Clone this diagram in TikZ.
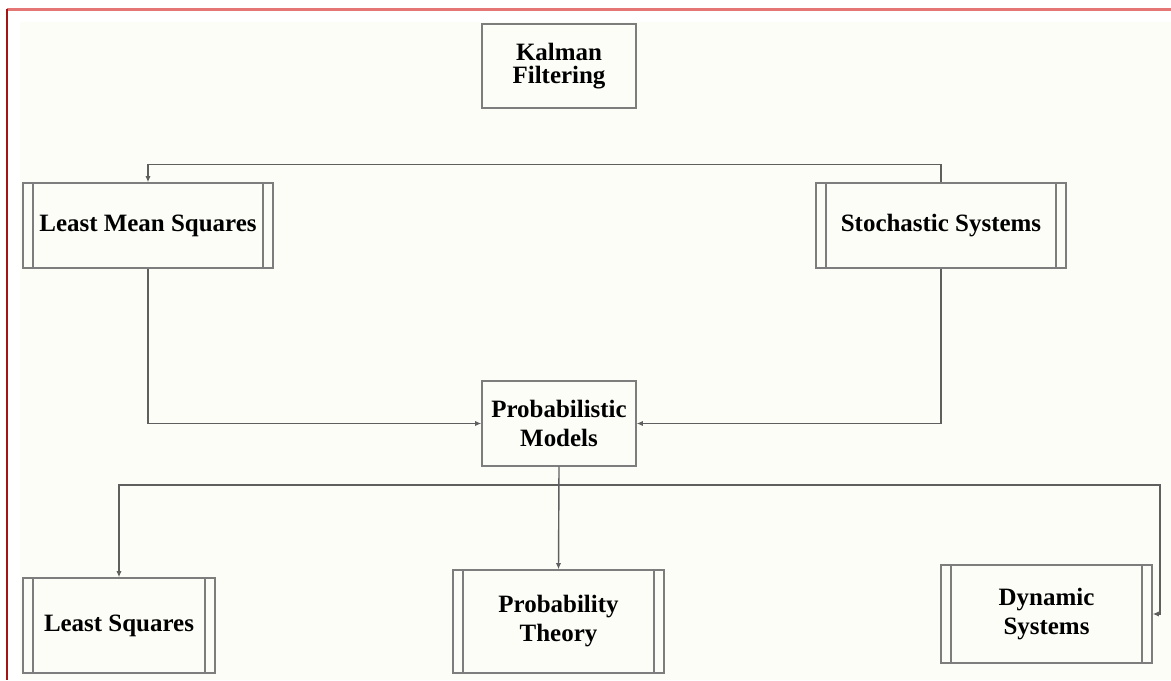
\documentclass[tikz,border=0pt]{standalone}
\usepackage{fontspec}
\setmainfont{Liberation Serif}
\usepackage{tikz}
\usetikzlibrary{arrows.meta, positioning, calc}
\definecolor{paper}{RGB}{253, 253, 248}
\definecolor{edge}{RGB}{125, 125, 125}
\definecolor{wire}{RGB}{95, 95, 95}
\definecolor{frametop}{RGB}{228, 118, 118}
\definecolor{frameleft}{RGB}{165, 20, 20}

\begin{document}
\begin{tikzpicture}[
    topic/.style={draw=edge, line width=0.8pt, fill=paper, align=center,
        font=\bfseries\fontsize{14.2}{16.5}\selectfont},
    subject/.style={topic, path picture={
        \draw[edge, line width=0.8pt]
            ([xshift=0.2cm]path picture bounding box.north west) --
            ([xshift=0.2cm]path picture bounding box.south west)
            ([xshift=-0.2cm]path picture bounding box.north east) --
            ([xshift=-0.2cm]path picture bounding box.south east);}},
    link/.style={draw=wire, line width=0.8pt, -{Latex[length=3.5pt, width=3pt]}}
]
    % Page
    \useasboundingbox (0,0) rectangle (23.42,-13.6);
    \fill[paper] (0.4,-0.44) rectangle (23.42,-13.6);
    \draw[frametop, line width=1.3pt] (0.14,-0.19) -- (23.42,-0.19);
    \draw[frameleft, line width=1pt] (0.14,-0.19) -- (0.14,-13.6);

    % Topics
    \node[topic, minimum width=3.08cm, minimum height=1.68cm] (kalman) at (11.18,-1.32)
        {Kalman\\[-3.4pt]Filtering};
    \node[subject, minimum width=5cm, minimum height=1.7cm] (lms) at (2.96,-4.51)
        {Least Mean Squares};
    \node[subject, minimum width=5cm, minimum height=1.7cm] (stoch) at (18.82,-4.51)
        {Stochastic Systems};
    \node[topic, minimum width=3.08cm, minimum height=1.7cm] (prob) at (11.18,-8.47)
        {Probabilistic\\Models};
    \node[subject, minimum width=3.84cm, minimum height=1.9cm] (ls) at (2.38,-12.51)
        {Least Squares};
    \node[subject, minimum width=4.22cm, minimum height=2.06cm] (theory) at (11.17,-12.43)
        {Probability\\Theory};
    \node[subject, minimum width=4.22cm, minimum height=1.96cm] (dyn) at (20.93,-12.28)
        {Dynamic\\Systems};

    % Connectors
    \draw[link] (stoch.north) -- ++(0,0.36) -| (lms.north);
    \draw[link] (lms.south) |- (prob.west);
    \draw[link] (stoch.south) |- (prob.east);
    \draw[link] (prob.south) -- (theory.north);
    \coordinate (bus) at (11.18,-9.70);
    \coordinate (turn) at (23.2,-9.70);
    \draw[link] (bus) -| (ls.north);
    \draw[link] (bus) -- (turn) |- (dyn.east);
\end{tikzpicture}
\end{document}
